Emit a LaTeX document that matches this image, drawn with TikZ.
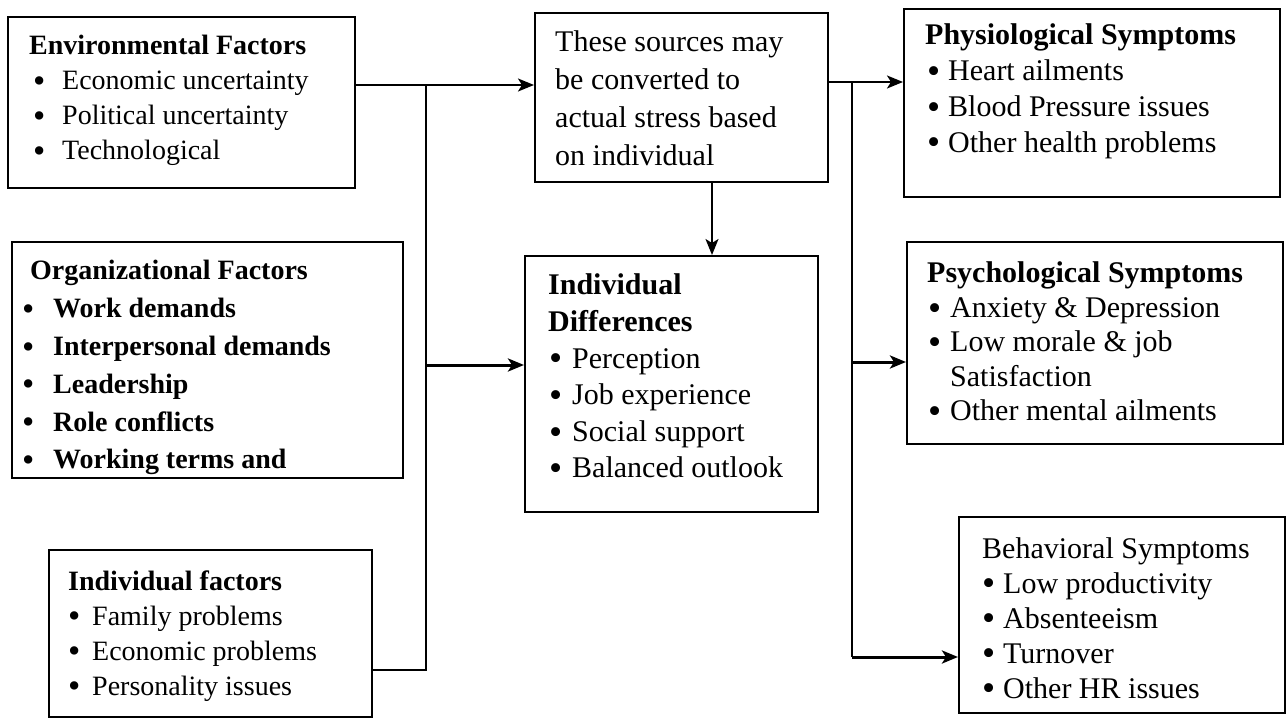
\documentclass[tikz,border=0pt]{standalone}
\usepackage{fontspec}
\setmainfont{Liberation Serif}
\usetikzlibrary{arrows.meta}
\newcommand\blines[2]{\vtop{\baselineskip=#1\lineskiplimit=-100pt\relax #2}}
\newcommand\bitem[3]{\hbox{\hspace*{#1}\makebox[#2][l]{\raisebox{-0.09em}{\scalebox{1.25}{\textbullet}}}#3}}
\newcommand\tline[1]{\hbox{#1}}
\tikzset{
  box/.style={draw, line width=2pt, rectangle, inner sep=0pt},
  txt/.style={anchor=base west, inner sep=0pt, font=\fontsize{28}{35}\selectfont},
  txtr/.style={anchor=base west, inner sep=0pt, font=\fontsize{30}{35}\selectfont},
  conn/.style={line width=1.8pt},
  thk/.style={line width=3pt},
  tip/.style={-{Stealth[length=16pt,width=13pt,inset=4pt]}}
}
\begin{document}
\begin{tikzpicture}[x=1pt,y=-1pt]
\fill[white] (0,0) rectangle (1288,719);
\useasboundingbox (0,0) rectangle (1288,719);

% boxes
\node[box, minimum width=347pt, minimum height=171pt] (env) at (181.5,102.5) {};
\node[box, minimum width=391pt, minimum height=236pt] (org) at (207.5,360) {};
\node[box, minimum width=323pt, minimum height=167pt] (indf) at (210.5,633.5) {};
\node[box, minimum width=293pt, minimum height=169pt] (src) at (681.5,97.5) {};
\node[box, minimum width=293pt, minimum height=256pt] (idiff) at (671.5,384) {};
\node[box, minimum width=376pt, minimum height=188pt] (phys) at (1092,103) {};
\node[box, minimum width=376pt, minimum height=202pt] (psych) at (1095,343) {};
\node[box, minimum width=326pt, minimum height=196pt] (behav) at (1122,615) {};

% texts
\node[txt] (envt) at (29,55) {\blines{35pt}{%
  \tline{\bfseries Environmental Factors}
  \bitem{4pt}{29pt}{Economic uncertainty}
  \bitem{4pt}{29pt}{Political uncertainty}
  \bitem{4pt}{29pt}{Technological}}};
\node[txt] (orgt) at (30,280) {\blines{37.8pt}{%
  \tline{\bfseries Organizational Factors}
  \bitem{-8pt}{31pt}{\bfseries Work demands}
  \bitem{-8pt}{31pt}{\bfseries Interpersonal demands}
  \bitem{-8pt}{31pt}{\bfseries Leadership}
  \bitem{-8pt}{31pt}{\bfseries Role conflicts}
  \bitem{-8pt}{31pt}{\bfseries Working terms and}}};
\node[txt] (indft) at (68,590) {\blines{35pt}{%
  \tline{\bfseries Individual factors}
  \bitem{0pt}{24pt}{Family problems}
  \bitem{0pt}{24pt}{Economic problems}
  \bitem{0pt}{24pt}{Personality issues}}};
\node[txtr] (srct) at (555,52) {\blines{37.7pt}{%
  \tline{These sources may}
  \tline{be converted to}
  \tline{actual stress based}
  \tline{on individual}}};
\node[txtr] (idifft) at (548,295) {\blines{36.6pt}{%
  \tline{\bfseries Individual}
  \tline{\bfseries Differences}
  \bitem{1pt}{23pt}{Perception}
  \bitem{1pt}{23pt}{Job experience}
  \bitem{1pt}{23pt}{Social support}
  \bitem{1pt}{23pt}{Balanced outlook}}};
\node[txtr] (physt) at (925,45) {\blines{35.7pt}{%
  \tline{\bfseries Physiological Symptoms}
  \bitem{2pt}{21pt}{Heart ailments}
  \bitem{2pt}{21pt}{Blood Pressure issues}
  \bitem{2pt}{21pt}{Other health problems}}};
\node[txtr] (psycht) at (927,283) {\blines{34.5pt}{%
  \tline{\bfseries Psychological Symptoms}
  \bitem{1pt}{22pt}{Anxiety \& Depression}
  \bitem{1pt}{22pt}{Low morale \& job}
  \tline{\hspace*{23pt}Satisfaction}
  \bitem{1pt}{22pt}{Other mental ailments}}};
\node[txtr] (behavt) at (982,558) {\blines{35pt}{%
  \tline{Behavioral Symptoms}
  \bitem{0pt}{21pt}{Low productivity}
  \bitem{0pt}{21pt}{Absenteeism}
  \bitem{0pt}{21pt}{Turnover}
  \bitem{0pt}{21pt}{Other HR issues}}};

% junction coordinates
\coordinate (jl) at (426,85);
\coordinate (jlm) at (426,365);
\coordinate (jlb) at (426,670);
\coordinate (sd) at (712,0);
\coordinate (jr) at (852,82);
\coordinate (jrm) at (852,362);
\coordinate (jrb) at (852,657);

% connectors
\draw[conn,tip] (env.east |- jl) -- (src.west |- jl);
\draw[conn] (jl) -- (jlb) -- (indf.east |- jlb);
\draw[thk,tip] (jlm) -- (idiff.west |- jlm);
\draw[conn,tip] (src.south -| sd) -- (idiff.north -| sd);
\draw[conn,tip] (src.east |- jr) -- (phys.west |- jr);
\draw[conn] (jr) -- (jrb);
\draw[thk,tip] (jrm) -- (psych.west |- jrm);
\draw[thk,tip] (jrb) -- (behav.west |- jrb);
\end{tikzpicture}
\end{document}
